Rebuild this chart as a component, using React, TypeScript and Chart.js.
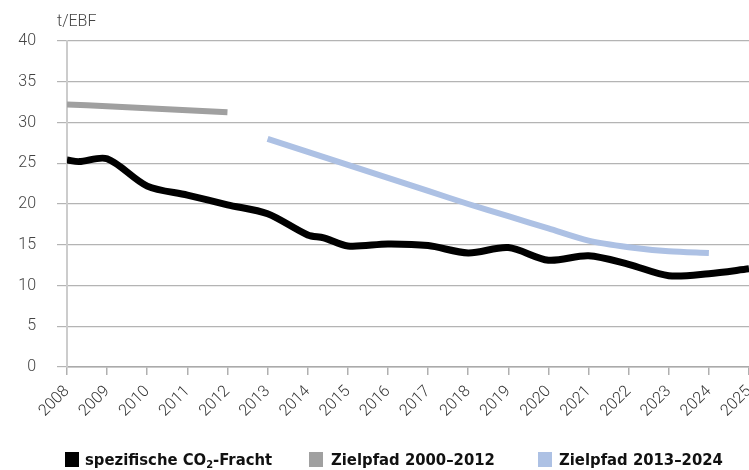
import React, { useEffect, useRef } from "react";
import { Chart, registerables } from "chart.js";

Chart.register(...registerables);

const yearTicks = ["2008","2009","2010","2011","2012","2013","2014","2015","2016","2017","2018","2019","2020","2021","2022","2023","2024","2025"];

const co2Years = [2008, 2008.3, 2009, 2010, 2011, 2012, 2013, 2014, 2014.4, 2015, 2016, 2017, 2018, 2019, 2020, 2021, 2022, 2023, 2024, 2025];
const co2Values = [25.4, 25.2, 25.55, 22.2, 21.1, 19.9, 18.8, 16.2, 15.85, 14.85, 15.1, 14.9, 14.0, 14.65, 13.1, 13.65, 12.6, 11.2, 11.45, 12.05];

const path1Years = [2008, 2009, 2010, 2011, 2012];
const path1Values = [32.2, 32.0, 31.75, 31.5, 31.25];

const path2Years = [2013, 2014, 2015, 2016, 2017, 2018, 2019, 2020, 2021, 2022, 2023, 2024];
const path2Values = [28.0, 26.4, 24.8, 23.2, 21.6, 20.0, 18.5, 17.0, 15.5, 14.7, 14.2, 14.0];

const seriesNames = ["spezifische CO₂-Fracht", "Zielpfad 2000–2012", "Zielpfad 2013–2024"];
const seriesColors = ["#000000", "#a0a0a0", "#adc1e4"];

const toPoints = (xs: number[], ys: number[]) => xs.map((x, i) => ({ x, y: ys[i] }));

export default function App() {
  const ref = useRef<HTMLCanvasElement | null>(null);

  useEffect(() => {
    if (!ref.current) return;
    const tickFont = { family: "Roboto, 'DejaVu Sans', sans-serif", size: 16, weight: 300 };
    const chart = new Chart(ref.current, {
      type: "line",
      data: {
        datasets: [
          {
            label: seriesNames[1],
            data: toPoints(path1Years, path1Values),
            borderColor: seriesColors[1],
            borderWidth: 6,
            tension: 0.3,
            pointRadius: 0,
            borderCapStyle: "butt",
          },
          {
            label: seriesNames[2],
            data: toPoints(path2Years, path2Values),
            borderColor: seriesColors[2],
            borderWidth: 6,
            tension: 0.3,
            pointRadius: 0,
            borderCapStyle: "butt",
          },
          {
            label: seriesNames[0],
            data: toPoints(co2Years, co2Values),
            borderColor: seriesColors[0],
            borderWidth: 7,
            tension: 0.3,
            pointRadius: 0,
            borderCapStyle: "butt",
            borderJoinStyle: "round",
          },
        ],
      },
      options: {
        responsive: false,
        animation: false,
        layout: { padding: { top: 41, right: 51, left: 0, bottom: 0 } },
        plugins: { legend: { display: false }, tooltip: { enabled: false }, title: { display: false } },
        scales: {
          x: {
            type: "linear",
            min: 2008,
            max: 2025,
            afterFit: (s: any) => { s.height = 103; },
            grid: { drawOnChartArea: false, drawTicks: true, tickLength: 8, color: "#b0b0b0", lineWidth: 1.5 },
            border: { display: true, color: "#aaaaaa", width: 1.5 },
            ticks: {
              stepSize: 1,
              autoSkip: false,
              maxRotation: 45,
              minRotation: 45,
              padding: 7,
              color: "#333333",
              font: tickFont,
              callback: (v: any) => yearTicks[Math.round(Number(v)) - 2008] ?? "",
            },
          },
          y: {
            min: 0,
            max: 40,
            afterFit: (s: any) => { s.width = 67; },
            grid: { color: "#b4b4b4", lineWidth: 1.2, tickLength: 10, drawTicks: true },
            border: { display: true, color: "#cccccc", width: 2 },
            ticks: {
              stepSize: 5,
              padding: 21,
              color: "#444444",
              font: tickFont,
            },
          },
        },
      },
    } as any);
    return () => chart.destroy();
  }, []);

  const legendFont: React.CSSProperties = {
    position: "absolute",
    top: 449,
    fontFamily: "'DejaVu Sans Condensed', 'Liberation Sans Narrow', sans-serif",
    fontWeight: "bold",
    fontSize: 16.5,
    lineHeight: "22px",
    color: "#111",
    whiteSpace: "nowrap",
  };
  const box = (left: number, color: string): React.CSSProperties => ({
    position: "absolute",
    left,
    top: 452,
    width: 14,
    height: 15,
    background: color,
  });

  return (
    <div style={{ position: "absolute", left: 0, top: 0, width: 749, height: 470, overflow: "hidden", background: "#fff" }}>
      <canvas ref={ref} width={800} height={470} style={{ position: "absolute", left: 0, top: 0, width: 800, height: 470 }} />
      <div style={{ position: "absolute", left: 57, top: 11, fontFamily: "Roboto, sans-serif", fontWeight: 300, fontSize: 16, color: "#444" }}>t/EBF</div>
      <div style={box(65, seriesColors[0])} />
      <div style={{ ...legendFont, left: 85 }}>spezifische CO<sub style={{ fontSize: 11, verticalAlign: "-3px", lineHeight: 0 }}>2</sub>-Fracht</div>
      <div style={box(309, seriesColors[1])} />
      <div style={{ ...legendFont, left: 331 }}>{seriesNames[1]}</div>
      <div style={box(538, seriesColors[2])} />
      <div style={{ ...legendFont, left: 559 }}>{seriesNames[2]}</div>
    </div>
  );
}
